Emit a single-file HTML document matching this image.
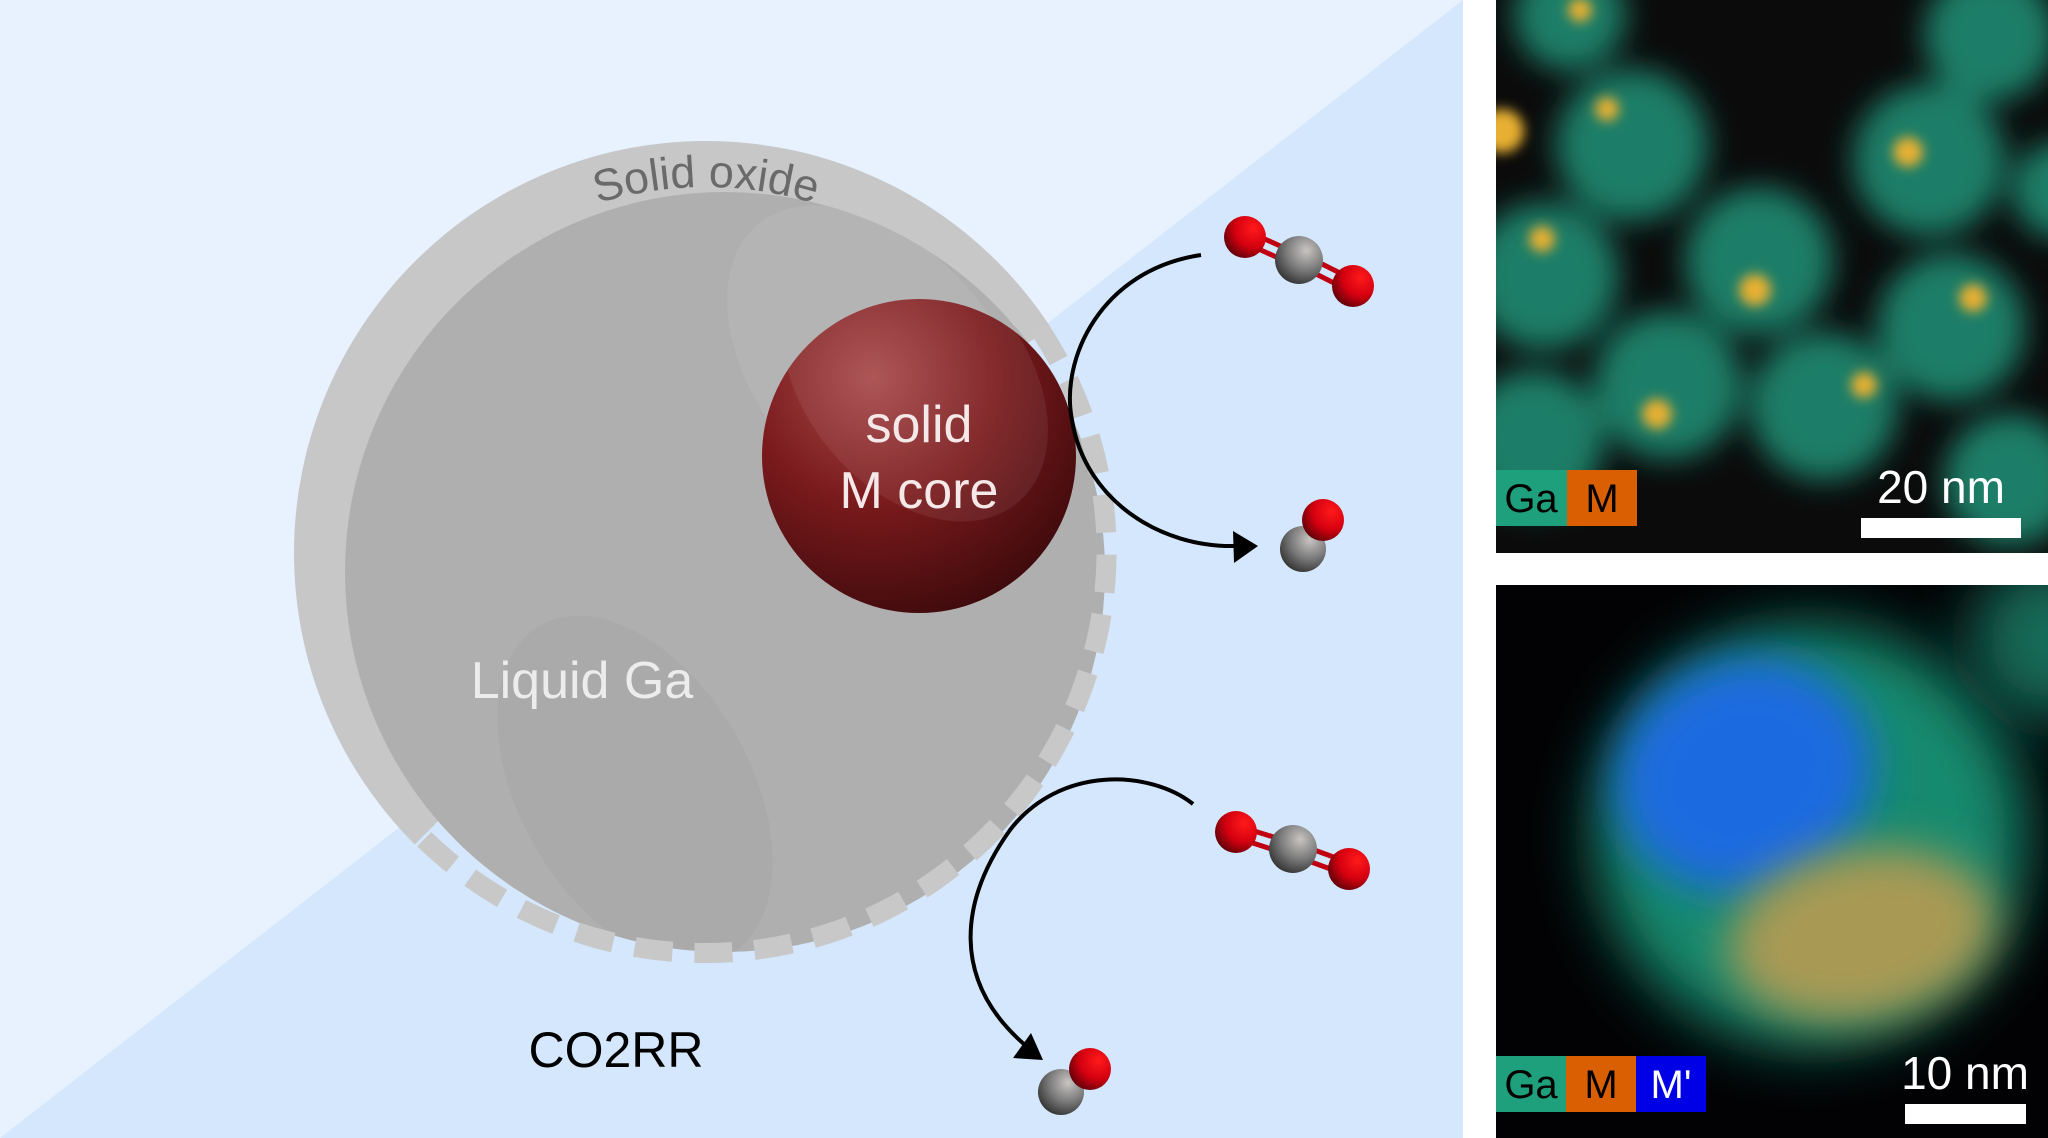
<!DOCTYPE html>
<html><head><meta charset="utf-8"><style>
html,body{margin:0;padding:0;background:#fff;}
svg{display:block;}
text{font-family:"Liberation Sans",Arial,sans-serif;}
</style></head><body>
<svg width="2048" height="1138" viewBox="0 0 2048 1138" xmlns="http://www.w3.org/2000/svg">
<defs>
<radialGradient id="red" cx="0.35" cy="0.25" r="0.8">
<stop offset="0" stop-color="#a84a4b"/><stop offset="0.5" stop-color="#7a1a1c"/><stop offset="1" stop-color="#3e0a0c"/>
</radialGradient>
<radialGradient id="oball" cx="0.7" cy="0.3" r="0.8">
<stop offset="0" stop-color="#ff1a1a"/><stop offset="0.55" stop-color="#d40010"/><stop offset="1" stop-color="#5a0008"/>
</radialGradient>
<radialGradient id="cball" cx="0.65" cy="0.3" r="0.8">
<stop offset="0" stop-color="#c8c4c2"/><stop offset="0.5" stop-color="#7d7d7d"/><stop offset="1" stop-color="#2a2a2a"/>
</radialGradient>
<filter id="blur6" x="-50%" y="-50%" width="200%" height="200%"><feGaussianBlur stdDeviation="6"/></filter>
<filter id="blur15" x="-50%" y="-50%" width="200%" height="200%"><feGaussianBlur stdDeviation="15"/></filter>
<filter id="blur20" x="-50%" y="-50%" width="200%" height="200%"><feGaussianBlur stdDeviation="22"/></filter>
<filter id="blur30" x="-50%" y="-50%" width="200%" height="200%"><feGaussianBlur stdDeviation="30"/></filter>
<clipPath id="wedge"><polygon points="706,553 -200,1460 -200,-400 1600,-400 1600,-30"/></clipPath>
<clipPath id="liq"><circle cx="725" cy="572" r="380"/></clipPath>
<clipPath id="core"><circle cx="919" cy="456" r="157"/></clipPath>
<clipPath id="p1"><rect x="1496" y="0" width="552" height="553"/></clipPath>
<clipPath id="p2"><rect x="1496" y="585" width="552" height="553"/></clipPath>
<path id="tp" d="M340,553 A366,366 0 0 1 1072,553"/>
</defs>

<rect width="1463" height="1138" fill="#e7f2fe"/>
<polygon points="0,1138 1463,0 1463,1138" fill="#d4e7fc"/>

<circle cx="706" cy="553" r="412" fill="#c7c7c8" clip-path="url(#wedge)"/>
<circle cx="725" cy="572" r="380" fill="#b0afb0"/>
<g clip-path="url(#liq)">
<ellipse cx="880" cy="370" rx="120" ry="190" transform="rotate(-40 880 370)" fill="#b5b4b5"/>
<ellipse cx="635" cy="790" rx="115" ry="190" transform="rotate(-30 635 790)" fill="#abaaab"/>
</g>
<path d="M1039,328 A402,402 0 0 1 422,837" fill="none" stroke="#c8c8c9" stroke-width="20" stroke-dasharray="38 22"/>

<text font-size="45" fill="#6a6a6a" text-anchor="middle"><textPath href="#tp" startOffset="50%">Solid oxide</textPath></text>

<circle cx="919" cy="456" r="157" fill="url(#red)"/>
<g clip-path="url(#core)"><ellipse cx="915" cy="380" rx="110" ry="160" transform="rotate(-40 915 380)" fill="#ffffff" opacity="0.07"/></g>
<text x="919" y="442" font-size="52" fill="#f4e8e8" text-anchor="middle">solid</text>
<text x="919" y="508" font-size="52" fill="#f4e8e8" text-anchor="middle">M core</text>
<text x="582" y="698" font-size="52" fill="#ececec" text-anchor="middle">Liquid Ga</text>
<text x="616" y="1067" font-size="50" fill="#000" text-anchor="middle">CO2RR</text>

<path d="M1201,255 C1100,270 1060,360 1072,420 C1085,500 1160,548 1236,546" fill="none" stroke="#000" stroke-width="4"/>
<polygon points="1258,546 1233,531 1234,563" fill="#000"/>
<path d="M1193,804 C1150,770 1060,765 1010,830 C960,900 950,980 1025,1045" fill="none" stroke="#000" stroke-width="4"/>
<polygon points="1043,1060 1013,1058 1031,1033" fill="#000"/>

<g stroke="#c00010" stroke-width="5">
<line x1="1247" y1="231" x2="1298" y2="254"/><line x1="1243" y1="242" x2="1294" y2="265"/>
<line x1="1302" y1="254" x2="1354" y2="280"/><line x1="1298" y1="265" x2="1350" y2="291"/>
<line x1="1238" y1="826" x2="1293" y2="843"/><line x1="1234" y1="837" x2="1290" y2="855"/>
<line x1="1295" y1="843" x2="1350" y2="863"/><line x1="1292" y1="855" x2="1347" y2="875"/>
</g>
<circle cx="1245" cy="237" r="21" fill="url(#oball)"/>
<circle cx="1299" cy="260" r="24" fill="url(#cball)"/>
<circle cx="1353" cy="286" r="21" fill="url(#oball)"/>
<circle cx="1303" cy="549" r="23" fill="url(#cball)"/>
<circle cx="1323" cy="520" r="21" fill="url(#oball)"/>
<circle cx="1236" cy="832" r="21" fill="url(#oball)"/>
<circle cx="1293" cy="849" r="24" fill="url(#cball)"/>
<circle cx="1349" cy="869" r="21" fill="url(#oball)"/>
<circle cx="1061" cy="1092" r="23" fill="url(#cball)"/>
<circle cx="1090" cy="1069" r="21" fill="url(#oball)"/>

<rect x="1496" y="0" width="552" height="553" fill="#0b0b0b"/>
<g clip-path="url(#p1)">
<g fill="#1a7e67" filter="url(#blur15)">
<circle cx="1632" cy="145" r="76"/><circle cx="1929" cy="160" r="76"/><circle cx="1759" cy="261" r="74"/>
<circle cx="1545" cy="276" r="74"/><circle cx="1668" cy="385" r="74"/><circle cx="1951" cy="327" r="74"/>
<circle cx="1824" cy="406" r="74"/><circle cx="1534" cy="440" r="70"/><circle cx="2010" cy="480" r="66"/>
<circle cx="1990" cy="35" r="66"/><circle cx="1570" cy="15" r="56"/><circle cx="2060" cy="190" r="48"/>
</g>
<g fill="#e8b030" filter="url(#blur6)">
<circle cx="1502" cy="131" r="22"/><circle cx="1607" cy="109" r="12"/><circle cx="1908" cy="152" r="15"/>
<circle cx="1755" cy="290" r="16"/><circle cx="1542" cy="239" r="13"/><circle cx="1657" cy="414" r="15"/>
<circle cx="1973" cy="298" r="14"/><circle cx="1864" cy="385" r="13"/><circle cx="1580" cy="10" r="12"/>
</g>
</g>
<rect x="1496" y="470" width="71" height="56" fill="#1fa07d"/>
<rect x="1567" y="470" width="70" height="56" fill="#d95f02"/>
<text x="1531" y="512" font-size="40" fill="#000" text-anchor="middle">Ga</text>
<text x="1602" y="512" font-size="40" fill="#000" text-anchor="middle">M</text>
<rect x="1861" y="518" width="160" height="20" fill="#fff"/>
<text x="1941" y="503" font-size="46" fill="#fff" text-anchor="middle">20 nm</text>

<rect x="1496" y="585" width="552" height="553" fill="#020204"/>
<g clip-path="url(#p2)">
<ellipse cx="1810" cy="835" rx="215" ry="210" fill="#178a6e" filter="url(#blur30)"/>
<circle cx="2050" cy="640" r="80" fill="#126a58" filter="url(#blur30)"/>
<ellipse cx="1744" cy="775" rx="130" ry="115" transform="rotate(-20 1744 775)" fill="#1a6ae0" filter="url(#blur20)"/>
<ellipse cx="1862" cy="935" rx="135" ry="85" transform="rotate(-10 1862 935)" fill="#a89a55" filter="url(#blur20)"/>
</g>
<rect x="1496" y="1056" width="70" height="56" fill="#1fa07d"/>
<rect x="1566" y="1056" width="70" height="56" fill="#d95f02"/>
<rect x="1636" y="1056" width="70" height="56" fill="#0000e6"/>
<text x="1531" y="1098" font-size="40" fill="#000" text-anchor="middle">Ga</text>
<text x="1601" y="1098" font-size="40" fill="#000" text-anchor="middle">M</text>
<text x="1671" y="1098" font-size="40" fill="#fff" text-anchor="middle">M'</text>
<rect x="1905" y="1104" width="121" height="20" fill="#fff"/>
<text x="1965" y="1089" font-size="46" fill="#fff" text-anchor="middle">10 nm</text>
</svg>
</body></html>
